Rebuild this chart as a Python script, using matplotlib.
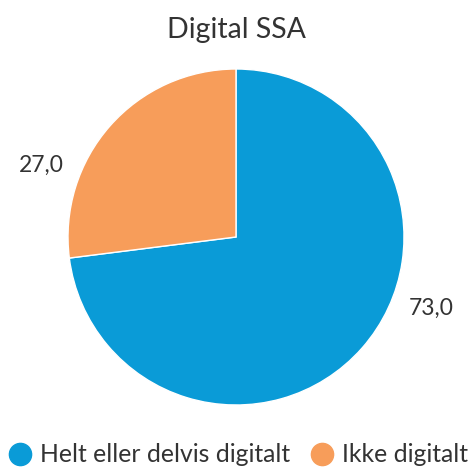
import numpy as np
import matplotlib
matplotlib.use("Agg")
from matplotlib import pyplot as plt
from matplotlib.lines import Line2D

plt.rcParams['font.family'] = ['Lato', 'DejaVu Sans']

# data
categories = ["Helt eller delvis digitalt", "Ikke digitalt"]
values = [73.0, 27.0]
value_labels = ["73,0", "27,0"]
colors = ["#0a9bd7", "#f79d5a"]
title = "Digital SSA"
text_color = "#333333"

fig = plt.figure(figsize=(4.76, 4.68), dpi=100)
ax = fig.add_axes([68 / 476, (468 - 237 - 168) / 468, 336 / 476, 336 / 468])

wedges, _ = ax.pie(values, colors=colors, startangle=90, counterclock=False,
                   wedgeprops=dict(edgecolor="white", linewidth=1))
ax.set_xlim(-1, 1)
ax.set_ylim(-1, 1)
ax.set_aspect("equal")
ax.axis("off")

# data labels at the side, like highcharts
for w, lab in zip(wedges, value_labels):
    mid = np.deg2rad((w.theta1 + w.theta2) / 2)
    x = np.sign(np.cos(mid)) * 1.16
    y = np.sin(mid) * 0.645
    ax.text(x, y, lab, ha="center", va="center", fontsize=16.5, color=text_color,
            clip_on=False)

fig.text(236 / 476, 1 - 30 / 468, title, ha="center", va="center",
         fontsize=20.5, color=text_color)

handles = [Line2D([], [], marker="o", linestyle="none", markersize=16,
                  markerfacecolor=c, markeredgecolor=c) for c in colors]
fig.legend(handles, categories, loc="center", bbox_to_anchor=(0.5, 1 - 455 / 468),
           ncol=2, frameon=False, fontsize=17.8, labelcolor=text_color,
           handletextpad=0.3, columnspacing=0.8, handlelength=1.0,
           borderpad=0, borderaxespad=0)

fig.savefig("out.png", dpi=100)
